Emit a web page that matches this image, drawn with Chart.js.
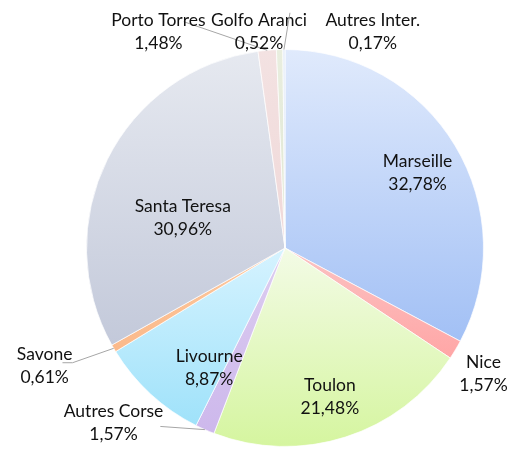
<!DOCTYPE html>
<html>
<head>
<meta charset="utf-8">
<script src="https://cdn.jsdelivr.net/npm/chart.js@4"></script>
<style>
  html, body { margin: 0; padding: 0; background: #fff; }
  canvas { display: block; }
</style>
</head>
<body>
<canvas id="pie" width="509" height="450"></canvas>
<script>
// Trafic passagers par port - parts en %
const categories = ['Marseille', 'Nice', 'Toulon', 'Autres Corse', 'Livourne',
    'Savone', 'Santa Teresa', 'Porto Torres', 'Golfo Aranci', 'Autres Inter.'];
const shares = [32.78, 1.57, 21.48, 1.57, 8.87, 0.61, 30.96, 1.48, 0.52, 0.17];
const percentLabels = shares.map(v => v.toFixed(2).replace('.', ',') + '%');

// gradient colours, top -> bottom of each slice
const topColors = ['#e0eafc', '#fbc3c3', '#f3fbe6', '#dccdf0', '#d6f3ff',
    '#fcc9a0', '#e6e9f0', '#f3e2e2', '#e9eedf', '#e4ecf8'];
const bottomColors = ['#a2c0f5', '#ffa6a6', '#d5f59f', '#cdb8ec', '#9fe2fa',
    '#fbb98a', '#c3c9da', '#f0d8d8', '#dfe6d2', '#d4e0f4'];

// label placement, in units of the radius from the pie centre
const labelPos = [[0.668, -0.377], [1.0, 0.633], [0.226, 0.749], [-0.864, 0.879],
    [-0.382, 0.603], [-1.211, 0.593], [-0.515, -0.151], [-0.638, -1.09],
    [-0.131, -1.09], [0.442, -1.09]];
// leader lines (index -> points after the slice edge), same units
const leaders = {
    3: [[-0.628, 0.899]],
    5: [[-1.070, 0.578], [-1.121, 0.578]],
    7: [[-0.51, -1.14]],
    9: [[0.025, -1.185]]
};

const total = shares.reduce((a, b) => a + b, 0);

function sliceGradient(context) {
    const i = context.dataIndex;
    const chart = context.chart;
    const area = chart.chartArea;
    if (!area) return topColors[i];
    const cx = (area.left + area.right) / 2;
    const cy = (area.top + area.bottom) / 2;
    const r = Math.min(area.width, area.height) / 2;
    let before = 0;
    for (let k = 0; k < i; k++) before += shares[k];
    const a0 = -Math.PI / 2 + before / total * Math.PI * 2;
    const a1 = a0 + shares[i] / total * Math.PI * 2;
    const ys = [cy, cy + r * Math.sin(a0), cy + r * Math.sin(a1)];
    [Math.PI / 2, -Math.PI / 2].forEach(t => {
        for (let n = -1; n <= 2; n++) {
            const tt = t + n * Math.PI * 2;
            if (tt >= a0 && tt <= a1) ys.push(cy + r * Math.sin(tt));
        }
    });
    const ymin = Math.min(...ys), ymax = Math.max(...ys);
    const g = chart.ctx.createLinearGradient(0, ymin, 0, Math.max(ymax, ymin + 1));
    g.addColorStop(0, topColors[i]);
    g.addColorStop(1, bottomColors[i]);
    return g;
}

const labelPlugin = {
    id: 'sliceLabels',
    afterDatasetsDraw(chart) {
        const ctx = chart.ctx;
        const arcs = chart.getDatasetMeta(0).data;
        ctx.save();
        arcs.forEach((arc, i) => {
            const p = arc.getProps(['x', 'y', 'startAngle', 'endAngle', 'outerRadius'], true);
            const r = p.outerRadius;
            if (leaders[i]) {
                const mid = (p.startAngle + p.endAngle) / 2;
                ctx.beginPath();
                ctx.moveTo(p.x + Math.cos(mid) * r, p.y + Math.sin(mid) * r);
                leaders[i].forEach(pt => ctx.lineTo(p.x + pt[0] * r, p.y + pt[1] * r));
                ctx.strokeStyle = '#a6a6a6';
                ctx.lineWidth = 1;
                ctx.stroke();
            }
            const lx = p.x + labelPos[i][0] * r;
            const ly = p.y + labelPos[i][1] * r;
            ctx.fillStyle = '#111';
            ctx.font = '17.5px Lato';
            ctx.textAlign = 'center';
            ctx.textBaseline = 'middle';
            ctx.fillText(categories[i], lx, ly - 11.5);
            ctx.fillText(percentLabels[i], lx, ly + 11.5);
        });
        ctx.restore();
    }
};

new Chart(document.getElementById('pie'), {
    type: 'pie',
    data: {
        labels: categories,
        datasets: [{
            data: shares,
            backgroundColor: sliceGradient,
            borderColor: 'rgba(255,255,255,0.7)',
            borderWidth: 1,
            hoverOffset: 0
        }]
    },
    options: {
        responsive: false,
        animation: false,
        layout: { padding: { left: 86, right: 25, top: 49, bottom: 3 } },
        plugins: {
            legend: { display: false },
            tooltip: { enabled: false }
        }
    },
    plugins: [labelPlugin]
});
</script>
</body>
</html>
